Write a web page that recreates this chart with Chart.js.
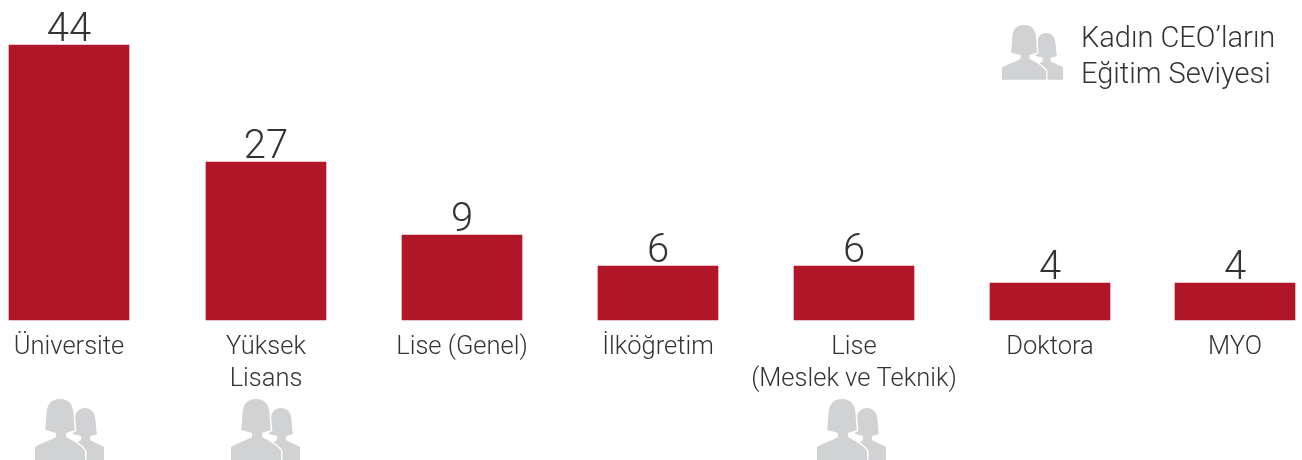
<!DOCTYPE html>
<html lang="tr"><head><meta charset="utf-8">
<style>html,body{margin:0;padding:0;background:#fff}canvas{display:block}</style>
<script src="https://cdn.jsdelivr.net/npm/chart.js@4/dist/chart.umd.min.js"></script>
</head><body><canvas id="c" width="1302" height="460"></canvas>
<script>
const categories = ["Üniversite", ["Yüksek","Lisans"], "Lise (Genel)", "İlköğretim", ["Lise","(Meslek ve Teknik)"], "Doktora", "MYO"];
const values = [44, 27, 9, 6, 6, 4, 4];
const legendLines = ["Kadın CEO’ların", "Eğitim Seviyesi"];

const FONT = 'Roboto';
const INK = '#333335', RED = '#b01528', GREY = '#d1d2d4';

// The source graphic is hand-laid: its slots are unevenly spaced and its bars
// are not proportional, so both axes carry the graphic's own layout.
const slotFractions = [0, 197, 393, 589, 785, 981, 1166].map(p => p / 1166);
const heightStops = [[0,0],[4,37],[6,54],[9,85],[27,158],[44,275]];

class SlotScale extends Chart.CategoryScale {
  getPixelForValue(value) {
    const f = slotFractions[Math.round(value)];
    return this.left + f * this.width;
  }
}
SlotScale.id = 'slot';
SlotScale.defaults = Chart.CategoryScale.defaults;

class StopScale extends Chart.LinearScale {
  getPixelForValue(value) {
    let h = 0;
    for (let i = 1; i < heightStops.length; i++) {
      const [v0,h0] = heightStops[i-1], [v1,h1] = heightStops[i];
      if (value <= v1) { h = h0 + (h1-h0)*(value-v0)/(v1-v0); break; }
      h = h1;
    }
    return this.bottom - h;
  }
}
StopScale.id = 'stops';
StopScale.defaults = Chart.LinearScale.defaults;
Chart.register(SlotScale, StopScale);

function drawIcon(ctx, x, y, s) {
  ctx.save();
  ctx.translate(x, y); ctx.scale(s, s);
  const back = new Path2D();
  back.moveTo(50,9);
  back.bezierCurveTo(43,9,40,14,39.5,21);
  back.bezierCurveTo(39,26,39,30,38,35);
  back.bezierCurveTo(41,36,44,36,46,37);
  back.lineTo(46,41);
  back.lineTo(38,46);
  back.lineTo(38,62);
  back.lineTo(69,62);
  back.lineTo(69,48);
  back.bezierCurveTo(66,46,60,44,55,41);
  back.lineTo(55,37);
  back.bezierCurveTo(58,36,60,36,62,35);
  back.bezierCurveTo(61,30,61,26,60.5,21);
  back.bezierCurveTo(60,14,57,9,50,9);
  back.closePath();
  ctx.fillStyle = GREY; ctx.fill(back);
  const front = new Path2D();
  front.moveTo(25,0);
  front.bezierCurveTo(15,0,12,7,11.5,14);
  front.bezierCurveTo(11,21,11,27,10,31);
  front.bezierCurveTo(14,32,18,33,21,34);
  front.lineTo(21,38);
  front.bezierCurveTo(14,42,6,44,0,48);
  front.lineTo(0,62); front.lineTo(50,62); front.lineTo(50,52);
  front.bezierCurveTo(46,46,38,42,31,38);
  front.lineTo(31,34);
  front.bezierCurveTo(34,33,37,32,40,31);
  front.bezierCurveTo(39,27,39,21,38.5,14);
  front.bezierCurveTo(38,7,35,0,25,0);
  front.closePath();
  ctx.strokeStyle = '#fff'; ctx.lineWidth = 3; ctx.lineJoin = 'round'; ctx.stroke(front);
  ctx.fillStyle = GREY; ctx.fill(front);
  ctx.restore();
}

const artwork = {
  id: 'artwork',
  afterDatasetsDraw(chart) {
    const ctx = chart.ctx;
    const meta = chart.getDatasetMeta(0);
    ctx.save();
    ctx.fillStyle = INK;
    ctx.textAlign = 'center'; ctx.textBaseline = 'alphabetic';
    ctx.font = '300 40px ' + FONT;
    values.forEach((v, i) => {
      const el = meta.data[i];
      ctx.fillText(String(v), el.x, el.y - 4);
    });
    ctx.textAlign = 'left';
    ctx.font = '300 29px ' + FONT;
    legendLines.forEach((t, i) => ctx.fillText(t, 1081, 47 + i * 36));
    ctx.restore();
    drawIcon(ctx, 1002, 25, 0.885);
    [35, 231, 817].forEach(x => drawIcon(ctx, x, 399, 1));
  }
};

new Chart(document.getElementById('c'), {
  type: 'bar',
  data: { labels: categories, datasets: [{ data: values, backgroundColor: RED, barThickness: 120, borderWidth: 0, clip: false }] },
  options: {
    responsive: false, animation: false,
    layout: { padding: { left: 69, right: 67, top: 0, bottom: 60 } },
    plugins: { legend: { display: false }, tooltip: { enabled: false }, title: { display: false } },
    scales: {
      x: { type: 'slot', offset: false, grid: { display: false }, border: { display: false },
           ticks: { autoSkip: false, maxRotation: 0, minRotation: 0, padding: 4, color: INK,
                    font: { family: FONT, size: 25.5, weight: '300', lineHeight: 1.255 } } },
      y: { type: 'stops', display: false, min: 0, max: 50 }
    }
  },
  plugins: [artwork]
});
</script></body></html>
